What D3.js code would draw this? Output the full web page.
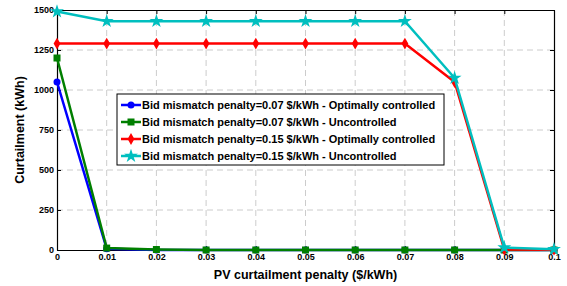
<!DOCTYPE html>
<html>
<head>
<meta charset="utf-8">
<script src="https://cdn.jsdelivr.net/npm/d3@7"></script>
<style>
body { margin: 0; background: #fff; }
text { font-family: "Liberation Sans", Arial, sans-serif; font-weight: bold; }
</style>
</head>
<body>
<div id="chart"></div>
<script>
// data
var penalties = [0, 0.01, 0.02, 0.03, 0.04, 0.05, 0.06, 0.07, 0.08, 0.09, 0.1];
var blueOpt007 = [1050, 8, 0, 0, 0, 0, 0, 0, 0, 0, 0];
var greenUnc007 = [1200, 12, 3, 0, 0, 0, 0, 0, 0, 0, 0];
var redOpt015 = [1290, 1290, 1290, 1290, 1290, 1290, 1290, 1290, 1050, 3, 2];
var cyanUnc015 = [1490, 1430, 1430, 1430, 1430, 1430, 1430, 1430, 1075, 15, 5];
var xTicks = [0, 0.01, 0.02, 0.03, 0.04, 0.05, 0.06, 0.07, 0.08, 0.09, 0.1];
var yTicks = [0, 250, 500, 750, 1000, 1250, 1500];

var series = [
    { name: "Bid mismatch penalty=0.07 $/kWh - Optimally controlled", values: blueOpt007, color: "#0000ff", marker: "circle" },
    { name: "Bid mismatch penalty=0.07 $/kWh - Uncontrolled", values: greenUnc007, color: "#007f00", marker: "square" },
    { name: "Bid mismatch penalty=0.15 $/kWh - Optimally controlled", values: redOpt015, color: "#ff0000", marker: "diamond" },
    { name: "Bid mismatch penalty=0.15 $/kWh - Uncontrolled", values: cyanUnc015, color: "#00bfbf", marker: "star" }
];

var width = 567, height = 286;
var margin = { top: 10, right: 13, bottom: 36, left: 57 };
var w = width - margin.left - margin.right;
var h = height - margin.top - margin.bottom;

var svg = d3.select("#chart").append("svg")
    .attr("width", width)
    .attr("height", height);

var g = svg.append("g")
    .attr("transform", "translate(" + margin.left + "," + margin.top + ")");

var x = d3.scaleLinear().domain([0, 0.1]).range([0, w]);
var y = d3.scaleLinear().domain([0, 1500]).range([h, 0]);

// grid
g.append("g")
    .selectAll("line")
    .data(xTicks.slice(1, -1))
    .enter().append("line")
    .attr("x1", d => x(d)).attr("x2", d => x(d))
    .attr("y1", 0).attr("y2", h)
    .attr("stroke", "#cccccc").attr("stroke-dasharray", "6,4");
g.append("g")
    .selectAll("line")
    .data(yTicks.slice(1, -1))
    .enter().append("line")
    .attr("x1", 0).attr("x2", w)
    .attr("y1", d => y(d)).attr("y2", d => y(d))
    .attr("stroke", "#cccccc").attr("stroke-dasharray", "6,4");

// axes
var xAxis = g.append("g")
    .attr("transform", "translate(0," + h + ")")
    .call(d3.axisBottom(x).tickValues(xTicks).tickFormat(d => String(+d.toFixed(2))).tickSizeInner(-4).tickSizeOuter(0).tickPadding(2));
var yAxis = g.append("g")
    .call(d3.axisLeft(y).tickValues(yTicks).tickFormat(d => String(d)).tickSizeInner(-4).tickSizeOuter(0).tickPadding(3));
g.append("g")
    .call(d3.axisTop(x).tickValues(xTicks).tickFormat("").tickSizeInner(-4).tickSizeOuter(0));
g.append("g")
    .attr("transform", "translate(" + w + ",0)")
    .call(d3.axisRight(y).tickValues(yTicks).tickFormat("").tickSizeInner(-4).tickSizeOuter(0));

g.selectAll(".domain").attr("stroke", "#000").attr("stroke-width", 1.2);
g.selectAll(".tick line").attr("stroke", "#000");
g.selectAll(".tick text")
    .style("font-size", "9px")
    .style("font-weight", "bold")
    .attr("fill", "#000");
xAxis.selectAll(".tick text").attr("dy", "0.9em");

// marker shapes
function drawMarker(sel, type, color) {
    if (type === "circle") {
        sel.append("circle").attr("r", 3.5).attr("fill", color);
    } else if (type === "square") {
        sel.append("rect").attr("x", -3.5).attr("y", -3.5).attr("width", 7).attr("height", 7).attr("fill", color);
    } else if (type === "diamond") {
        sel.append("path").attr("d", d3.symbol().type(d3.symbolDiamond).size(40)).attr("fill", color);
    } else {
        sel.append("path").attr("d", d3.symbol().type(d3.symbolStar).size(60)).attr("fill", color);
    }
}

var line = d3.line()
    .x((d, i) => x(penalties[i]))
    .y(d => y(d));

series.forEach(function(s) {
    g.append("path")
        .datum(s.values)
        .attr("fill", "none")
        .attr("stroke", s.color)
        .attr("stroke-width", 2.5)
        .attr("d", line);
    s.values.forEach(function(v, i) {
        var m = g.append("g").attr("transform", "translate(" + x(penalties[i]) + "," + y(v) + ")");
        drawMarker(m, s.marker, s.color);
    });
});

// legend
var legend = svg.append("g").attr("transform", "translate(117,94)");
legend.append("rect")
    .attr("width", 327).attr("height", 71)
    .attr("fill", "#fff").attr("stroke", "#000").attr("stroke-width", 1);
series.forEach(function(s, i) {
    var row = legend.append("g").attr("transform", "translate(0," + (11 + i * 17) + ")");
    row.append("line")
        .attr("x1", 4).attr("x2", 24)
        .attr("stroke", s.color).attr("stroke-width", 2.5);
    drawMarker(row.append("g").attr("transform", "translate(14,0)"), s.marker, s.color);
    row.append("text")
        .attr("x", 25).attr("dy", "0.35em")
        .style("font-size", "11px")
        .text(s.name);
});

// axis labels
svg.append("text")
    .attr("x", margin.left + w / 2).attr("y", 279)
    .attr("text-anchor", "middle")
    .style("font-size", "12.5px")
    .text("PV curtailment penalty ($/kWh)");
svg.append("text")
    .attr("transform", "translate(24," + (margin.top + h / 2) + ") rotate(-90)")
    .attr("text-anchor", "middle")
    .style("font-size", "12.5px")
    .text("Curtailment (kWh)");
</script>
</body>
</html>
